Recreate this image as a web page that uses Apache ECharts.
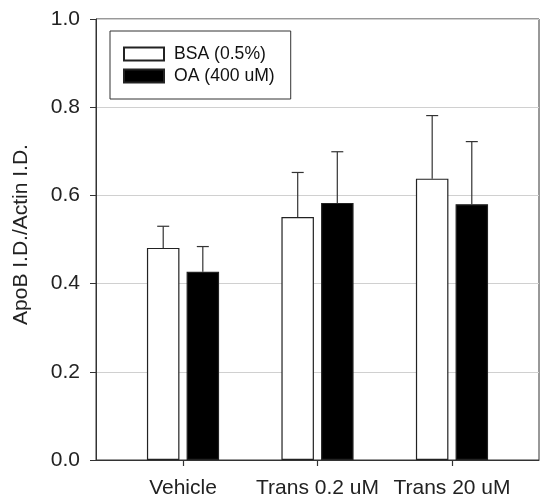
<!DOCTYPE html>
<html>
<head>
<meta charset="utf-8">
<script src="https://cdn.jsdelivr.net/npm/echarts@6/dist/echarts.min.js"></script>
<style>html,body{margin:0;padding:0;background:#fff}#c{width:540px;height:499px}</style>
</head>
<body>
<div id="c"></div>
<script>
const categories = ['Vehicle', 'Trans 0.2 uM', 'Trans 20 uM'];
const bsaValues = [0.481, 0.551, 0.638];
const bsaErrors = [0.049, 0.101, 0.143];
const oaValues = [0.427, 0.583, 0.580];
const oaErrors = [0.057, 0.116, 0.142];
const yTicks = [0, 0.2, 0.4, 0.6, 0.8, 1.0];
const seriesNames = ['BSA (0.5%)', 'OA (400 uM)'];

const FONT = 'Liberation Sans, Arial, sans-serif';
const xIdx = categories.map((c, i) => i);

function errSeries(vals, errs, offsetPx) {
  return {
    type: 'custom',
    silent: true,
    z: 1,
    data: vals.map((v, i) => [i, v, v + errs[i]]),
    renderItem: function (params, api) {
      const p0 = api.coord([api.value(0), api.value(1)]);
      const p1 = api.coord([api.value(0), api.value(2)]);
      const x = p0[0] + offsetPx;
      const half = 6;
      const st = { stroke: '#333', lineWidth: 1.2 };
      return {
        type: 'group',
        children: [
          { type: 'line', shape: { x1: x, y1: p0[1], x2: x, y2: p1[1] }, style: st },
          { type: 'line', shape: { x1: x - half, y1: p1[1], x2: x + half, y2: p1[1] }, style: st }
        ]
      };
    }
  };
}

const chart = echarts.init(document.getElementById('c'), null, { renderer: 'canvas' });
chart.setOption({
  animation: false,
  backgroundColor: '#fff',
  grid: { left: 96, top: 19, right: 1, bottom: 38, show: true, borderColor: '#333', borderWidth: 1, backgroundColor: 'transparent' },
  legend: {
    orient: 'vertical',
    left: 110, top: 31,
    padding: [14, 16, 14, 13],
    itemGap: 4,
    itemWidth: 40, itemHeight: 13,
    borderColor: '#333', borderWidth: 1,
    icon: 'rect',
    textStyle: { fontFamily: FONT, fontSize: 17.6, color: '#111', lineHeight: 18, padding: [0, 0, 0, 5] },
    data: seriesNames
  },
  xAxis: {
    type: 'value',
    min: -0.647, max: 2.647,
    splitLine: { show: false },
    axisLine: { show: true, onZero: false, lineStyle: { color: '#333', width: 1 } },
    axisTick: { show: true, customValues: xIdx, length: 6, lineStyle: { color: '#333', width: 1.2 } },
    axisLabel: {
      customValues: xIdx,
      formatter: v => categories[Math.round(v)] || '',
      fontFamily: FONT, fontSize: 21, color: '#222', margin: 18
    }
  },
  yAxis: {
    type: 'value',
    min: 0, max: 1, interval: 0.2,
    name: 'ApoB I.D./Actin I.D.',
    nameLocation: 'middle',
    nameGap: 64,
    nameTextStyle: { fontFamily: FONT, fontSize: 21, color: '#222', padding: [0, 0, 0, 10] },
    axisLine: { show: true, onZero: false, lineStyle: { color: '#333', width: 1 } },
    axisTick: { show: true, length: 6, lineStyle: { color: '#333' } },
    axisLabel: { formatter: v => v.toFixed(1), fontFamily: FONT, fontSize: 21, color: '#222', margin: 16 },
    splitLine: { show: true, lineStyle: { color: '#d0d0d0', width: 1.2 } }
  },
  series: [
    {
      name: seriesNames[0], type: 'bar', barWidth: 32.5, barGap: '22%', z: 2,
      itemStyle: { color: '#ffffff', borderColor: '#222', borderWidth: 1.2 },
      data: bsaValues.map((v, i) => [i, v])
    },
    {
      name: seriesNames[1], type: 'bar', barWidth: 32.5, barGap: '22%', z: 2,
      itemStyle: { color: '#000000', borderColor: '#222', borderWidth: 1.2 },
      data: oaValues.map((v, i) => [i, v])
    },
    errSeries(bsaValues, bsaErrors, -19.8),
    errSeries(oaValues, oaErrors, 19.8)
  ]
});
</script>
</body>
</html>
